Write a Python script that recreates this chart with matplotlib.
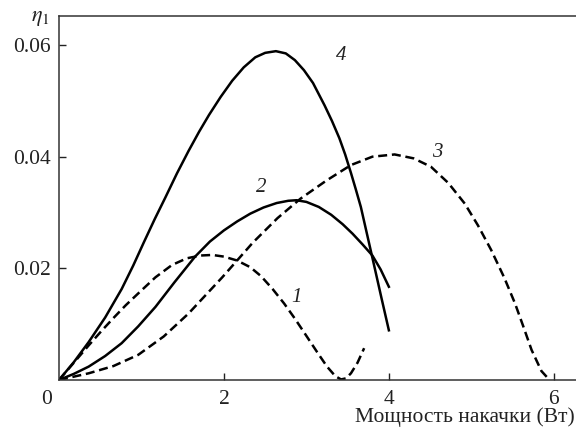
import matplotlib
matplotlib.use("Agg")
import matplotlib.pyplot as plt

plt.rcParams['font.family'] = ['Liberation Serif', 'DejaVu Serif']
plt.rcParams['mathtext.fontset'] = 'stix'

# curve 1 (dashed)
x1 = [0.0, 0.18, 0.36, 0.51, 0.66, 0.81, 0.96, 1.17, 1.37, 1.55, 1.72, 1.86, 2.00, 2.16, 2.32,
      2.45, 2.59, 2.73, 2.86, 3.00, 3.13, 3.25, 3.35, 3.42, 3.48, 3.54, 3.62, 3.70]
y1 = [0.0, 0.0031, 0.0062, 0.0087, 0.0111, 0.0134, 0.0155, 0.0184, 0.0206, 0.0218, 0.0223, 0.0224,
      0.0221, 0.0214, 0.0202, 0.0186, 0.0163, 0.0137, 0.0110, 0.0079, 0.0050, 0.0024, 0.0007,
      0.0001, 0.0003, 0.0012, 0.0031, 0.0057]
# curve 2 (solid)
x2 = [0.0, 0.18, 0.36, 0.56, 0.76, 0.96, 1.17, 1.40, 1.65, 1.83, 2.00, 2.16, 2.32, 2.48, 2.64,
      2.78, 2.88, 3.00, 3.15, 3.30, 3.44, 3.56, 3.68, 3.80, 3.90, 4.0]
y2 = [0.0, 0.0011, 0.0024, 0.0043, 0.0066, 0.0096, 0.0131, 0.0175, 0.0221, 0.0248, 0.0268, 0.0284,
      0.0298, 0.0309, 0.0317, 0.0321, 0.0322, 0.0319, 0.0310, 0.0296, 0.0279, 0.0262, 0.0243,
      0.0223, 0.0198, 0.0167]
# curve 3 (dashed)
x3 = [0.0, 0.36, 0.66, 0.96, 1.27, 1.57, 1.98, 2.35, 2.65, 2.93, 3.24, 3.54, 3.80, 4.07, 4.30,
      4.51, 4.72, 4.92, 5.08, 5.24, 5.40, 5.53, 5.63, 5.73, 5.85, 5.93]
y3 = [0.0, 0.0012, 0.0025, 0.0045, 0.0078, 0.0119, 0.0184, 0.0246, 0.0290, 0.0325, 0.0357, 0.0385,
      0.0400, 0.0404, 0.0397, 0.0382, 0.0353, 0.0316, 0.0277, 0.0233, 0.0183, 0.0137, 0.0096,
      0.0054, 0.0016, 0.0003]
# curve 4 (solid)
x4 = [0.0, 0.18, 0.36, 0.56, 0.76, 0.90, 1.03, 1.16, 1.29, 1.43, 1.57, 1.70, 1.82, 1.96, 2.10,
      2.24, 2.38, 2.50, 2.63, 2.75, 2.86, 2.97, 3.08, 3.22, 3.31, 3.40, 3.47, 3.54, 3.60, 3.66,
      3.74, 3.82, 3.91, 4.0]
y4 = [0.0, 0.0032, 0.0068, 0.0112, 0.0163, 0.0205, 0.0247, 0.0288, 0.0327, 0.0370, 0.0410, 0.0445,
      0.0475, 0.0507, 0.0536, 0.0560, 0.0578, 0.0586, 0.0589, 0.0585, 0.0573, 0.0555, 0.0532,
      0.0492, 0.0464, 0.0433, 0.0404, 0.0371, 0.0341, 0.0310, 0.0258, 0.0206, 0.0147, 0.0089]

labels = ["1", "2", "3", "4"]
label_pos = [(2.88, 0.0147), (2.45, 0.0344), (4.59, 0.0408), (3.42, 0.0582)]

xticks = [2, 4, 6]
yticks = [0.02, 0.04, 0.06]
ytick_labels = ["0.02", "0.04", "0.06"]

fig = plt.figure(figsize=(5.76, 4.30), dpi=100)
ax = fig.add_axes([59/576, 50/430, 1.003 - 59/576, 364/430])

dash = (3.6, 1.9)
lw = 1.8
ax.plot(x1, y1, color='black', lw=lw, dashes=dash)
ax.plot(x2, y2, color='black', lw=lw)
ax.plot(x3, y3, color='black', lw=lw, dashes=dash)
ax.plot(x4, y4, color='black', lw=lw)

for lab, (lx, ly) in zip(labels, label_pos):
    ax.text(lx, ly, lab, fontsize=15, fontstyle='italic', color='#222222',
            ha='center', va='center')

ax.set_xlim(0, 6.29)
ax.set_ylim(0, 0.0652)
ax.set_xticks(xticks)
ax.set_xticklabels([str(t) for t in xticks])
ax.set_yticks(yticks)
ax.set_yticklabels(ytick_labels)
ax.tick_params(direction='in', length=5, width=1, labelsize=15.5, colors='#222222')
ax.tick_params(axis='x', pad=7)
ax.tick_params(axis='y', pad=6)
for s in ax.spines.values():
    s.set_linewidth(1.1)
    s.set_color('#333333')
ax.spines['right'].set_visible(False)

fig.text(46.5/576, 1 - 399.5/430, "0", fontsize=15.5, color='#222222',
         ha='center', va='center')
fig.text(575/576, 1 - 417/430, "Мощность накачки (Вт)", fontsize=15.5,
         color='#222222', ha='right', va='center')
fig.text(40/576, 1 - 18/430, r"$\eta_1$", fontsize=16, color='#222222',
         ha='center', va='center')

fig.savefig("out.png", dpi=100)
